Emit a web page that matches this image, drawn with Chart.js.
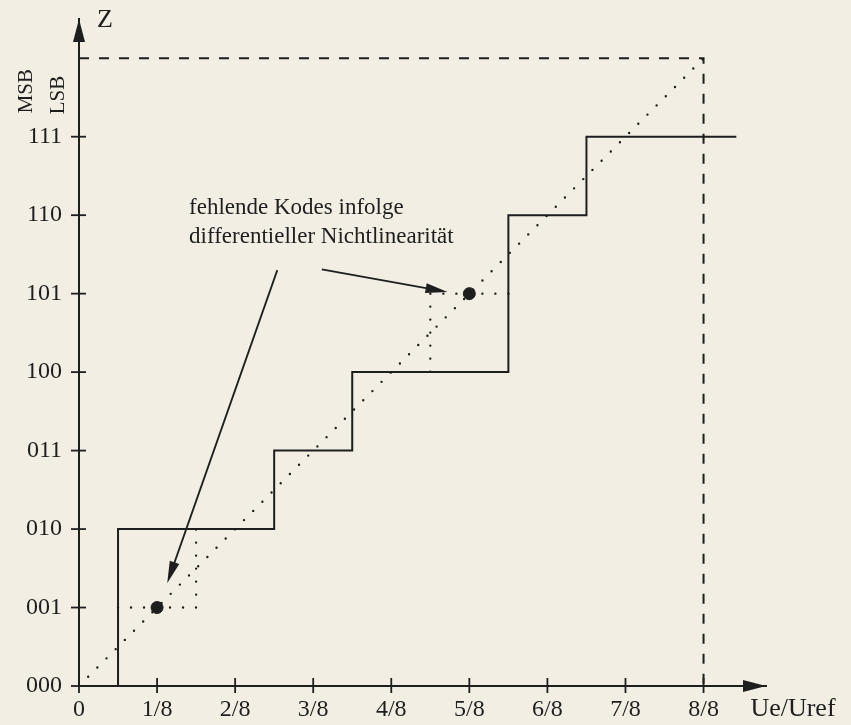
<!DOCTYPE html>
<html>
<head>
<meta charset="utf-8">
<script src="https://cdn.jsdelivr.net/npm/chart.js@4/dist/chart.umd.min.js"></script>
<style>
  body { margin: 0; background: #f2eee4; }
  canvas { display: block; }
</style>
</head>
<body>
<canvas id="adc" width="851" height="725"></canvas>
<script>
// axis ticks
var xTicks = [0, 1, 2, 3, 4, 5, 6, 7, 8]
var xTickLabels = ['0', '1/8', '2/8', '3/8', '4/8', '5/8', '6/8', '7/8', '8/8']
var yTicks = [0, 1, 2, 3, 4, 5, 6, 7]
var yTickLabels = ['000', '001', '010', '011', '100', '101', '110', '111']

// real transfer curve (solid staircase)
var stairX = [0.5, 0.5, 2.5, 2.5, 3.5, 3.5, 5.5, 5.5, 6.5, 6.5, 8.42]
var stairY = [0, 2, 2, 3, 3, 4, 4, 6, 6, 7, 7]

// ideal line (dotted diagonal)
var idealX = [0, 8.06]
var idealY = [0, 8.06]

// ideal steps where codes are missing (dotted)
var gapLowX = [0.5, 1.5, 1.5]
var gapLowY = [1, 1, 2]
var gapHighX = [5.5, 4.5, 4.5]
var gapHighY = [5, 5, 4]

// full scale (dashed)
var fullX = [0, 8, 8]
var fullY = [8, 8, 0]

// missing codes
var missX = [1, 5]
var missY = [1, 5]

function pts (xs, ys) {
  return xs.map(function (x, i) { return {x: x, y: ys[i]} })
}

var ink = '#1e1e1e'
var serif = '"Liberation Serif", "DejaVu Serif", serif'

var dotted = {borderDash: [0, 13], borderCapStyle: 'round', borderWidth: 2.4}

var drawing = {
  id: 'drawing',
  beforeDraw: function (chart) {
    var ctx = chart.ctx
    ctx.save()
    ctx.fillStyle = '#f2eee4'
    ctx.fillRect(0, 0, chart.width, chart.height)
    ctx.restore()
  },
  afterDraw: function (chart) {
    var ctx = chart.ctx
    var xs = chart.scales.x
    var ys = chart.scales.y
    var x0 = xs.getPixelForValue(0)
    var y0 = ys.getPixelForValue(0)
    ctx.save()
    ctx.strokeStyle = ink
    ctx.fillStyle = ink
    ctx.lineWidth = 1.8

    // tick marks crossing the axes
    xTicks.forEach(function (v) {
      var px = xs.getPixelForValue(v)
      ctx.beginPath(); ctx.moveTo(px, y0 - 8); ctx.lineTo(px, y0 + 7); ctx.stroke()
    })
    yTicks.forEach(function (v) {
      var py = ys.getPixelForValue(v)
      ctx.beginPath(); ctx.moveTo(x0 - 8, py); ctx.lineTo(x0 + 7, py); ctx.stroke()
    })

    // axis arrow heads
    var xr = chart.chartArea.right
    var yt = chart.chartArea.top
    ctx.beginPath(); ctx.moveTo(xr, y0); ctx.lineTo(xr - 23, y0 - 6); ctx.lineTo(xr - 23, y0 + 6); ctx.closePath(); ctx.fill()
    ctx.beginPath(); ctx.moveTo(x0, yt); ctx.lineTo(x0 - 6, yt + 23); ctx.lineTo(x0 + 6, yt + 23); ctx.closePath(); ctx.fill()

    // axis titles
    ctx.font = '26px ' + serif
    ctx.textBaseline = 'alphabetic'
    ctx.textAlign = 'left'
    ctx.fillText('Z', x0 + 18, yt + 8)
    ctx.fillText('Ue/Uref', xs.getPixelForValue(8.6), y0 + 30)

    ctx.font = '21px ' + serif
    ctx.textAlign = 'center'
    ctx.textBaseline = 'middle'
    ;[['MSB', -53, 7.58], ['LSB', -21, 7.53]].forEach(function (t) {
      ctx.save()
      ctx.translate(x0 + t[1], ys.getPixelForValue(t[2]))
      ctx.rotate(-Math.PI / 2)
      ctx.fillText(t[0], 0, 0)
      ctx.restore()
    })

    // annotation
    ctx.font = '23px ' + serif
    ctx.textAlign = 'left'
    ctx.textBaseline = 'alphabetic'
    ctx.fillText('fehlende Kodes infolge', xs.getPixelForValue(1.41), ys.getPixelForValue(6.01))
    ctx.fillText('differentieller Nichtlinearität', xs.getPixelForValue(1.41), ys.getPixelForValue(5.64))

    function arrow (ax, ay, bx, by) {
      var x1 = xs.getPixelForValue(ax), y1 = ys.getPixelForValue(ay)
      var x2 = xs.getPixelForValue(bx), y2 = ys.getPixelForValue(by)
      var a = Math.atan2(y2 - y1, x2 - x1)
      var len = 22, w = 5
      ctx.lineWidth = 1.8
      ctx.beginPath(); ctx.moveTo(x1, y1)
      ctx.lineTo(x2 - Math.cos(a) * len * 0.8, y2 - Math.sin(a) * len * 0.8); ctx.stroke()
      ctx.beginPath(); ctx.moveTo(x2, y2)
      ctx.lineTo(x2 - Math.cos(a) * len + Math.sin(a) * w, y2 - Math.sin(a) * len - Math.cos(a) * w)
      ctx.lineTo(x2 - Math.cos(a) * len - Math.sin(a) * w, y2 - Math.sin(a) * len + Math.cos(a) * w)
      ctx.closePath(); ctx.fill()
    }
    arrow(2.54, 5.30, 1.13, 1.31)
    arrow(3.11, 5.31, 4.72, 5.02)
    ctx.restore()
  }
}

new Chart(document.getElementById('adc'), {
  type: 'scatter',
  data: {
    datasets: [
      Object.assign({data: pts(idealX, idealY), showLine: true, pointRadius: 0, borderColor: ink}, dotted),
      Object.assign({data: pts(gapLowX, gapLowY), showLine: true, pointRadius: 0, borderColor: ink}, dotted),
      Object.assign({data: pts(gapHighX, gapHighY), showLine: true, pointRadius: 0, borderColor: ink}, dotted),
      {data: pts(fullX, fullY), showLine: true, pointRadius: 0, borderColor: ink, borderWidth: 2, borderDash: [10, 10]},
      {data: pts(stairX, stairY), showLine: true, pointRadius: 0, borderColor: ink, borderWidth: 2},
      {data: pts(missX, missY), showLine: false, pointRadius: 6, backgroundColor: ink, borderColor: ink}
    ]
  },
  options: {
    responsive: false,
    animation: false,
    events: [],
    layout: {padding: {left: 0, top: 19, right: 85, bottom: 0}},
    plugins: {legend: {display: false}, tooltip: {enabled: false}},
    scales: {
      x: {
        type: 'linear', min: 0, max: 8.8,
        afterFit: function (s) { s.height = 39 },
        afterBuildTicks: function (s) { s.ticks = xTicks.map(function (v) { return {value: v} }) },
        grid: {display: true, drawOnChartArea: false, drawTicks: true, tickLength: 9, tickColor: 'rgba(0,0,0,0)'},
        border: {display: true, color: ink, width: 2},
        ticks: {
          padding: 0, color: ink, maxRotation: 0, autoSkip: false,
          font: {family: serif, size: 24},
          callback: function (v) { return xTickLabels[xTicks.indexOf(v)] }
        }
      },
      y: {
        type: 'linear', min: 0, max: 8.5,
        afterFit: function (s) { s.width = 79 },
        afterBuildTicks: function (s) { s.ticks = yTicks.map(function (v) { return {value: v} }) },
        grid: {display: true, drawOnChartArea: false, drawTicks: true, tickLength: 17, tickColor: 'rgba(0,0,0,0)'},
        border: {display: true, color: ink, width: 2},
        ticks: {
          padding: 0, color: ink, autoSkip: false,
          font: {family: serif, size: 24},
          callback: function (v) { return yTickLabels[yTicks.indexOf(v)] }
        }
      }
    }
  },
  plugins: [drawing]
})
</script>
</body>
</html>
